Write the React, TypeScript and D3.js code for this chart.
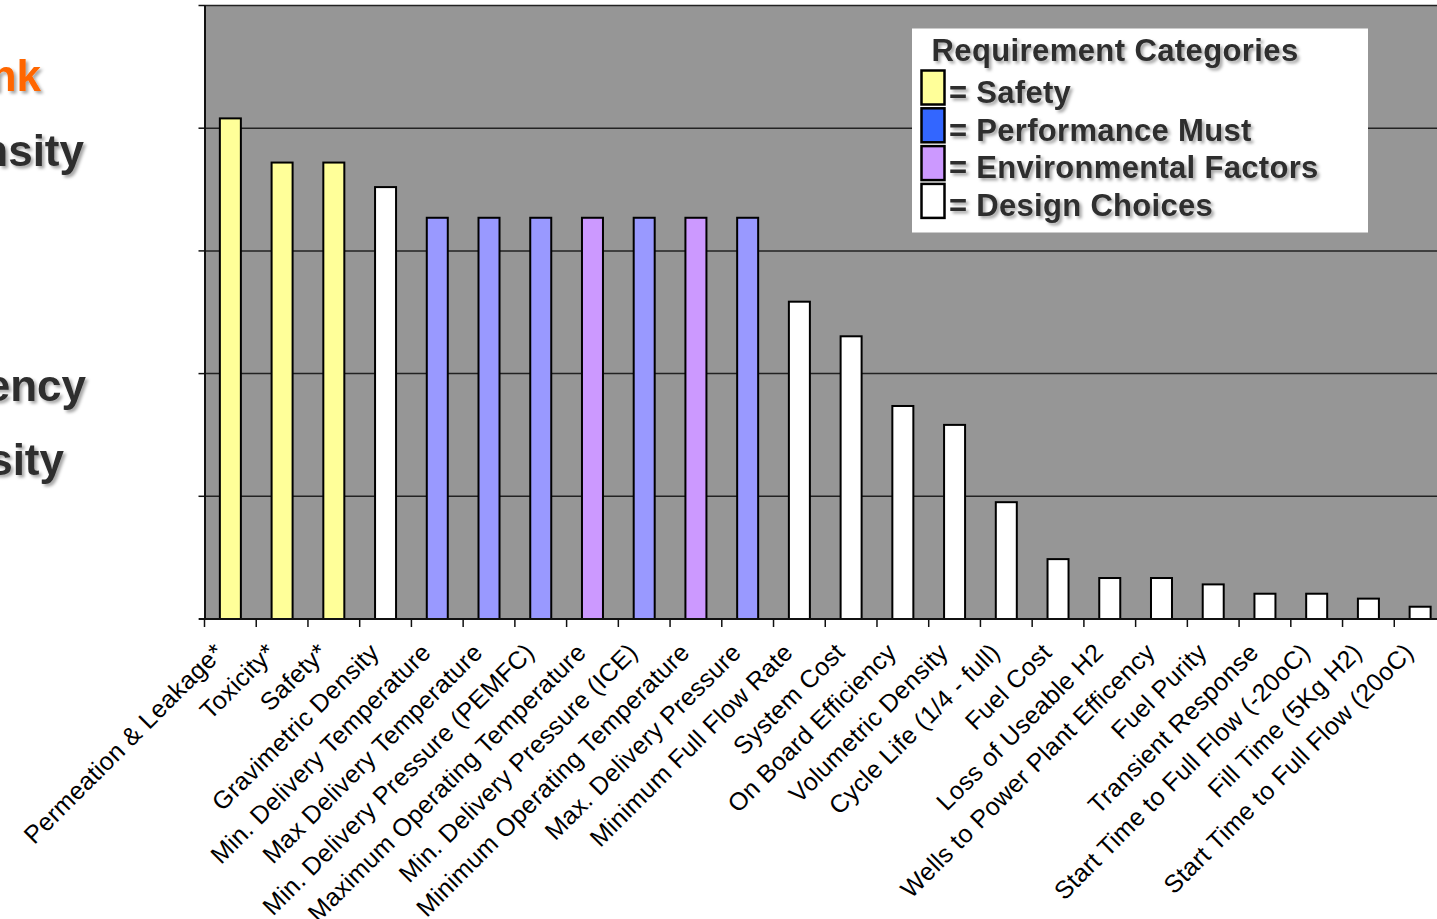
import React from "react";
import * as d3 from "d3";

// Requirement ranking data
const categories: string[] = [
  "Permeation & Leakage*",
  "Toxicity*",
  "Safety*",
  "Gravimetric Density",
  "Min. Delivery Temperature",
  "Max Delivery Temperature",
  "Min. Delivery Pressure (PEMFC)",
  "Maximum Operating Temperature",
  "Min. Delivery Pressure (ICE)",
  "Minimum Operating Temperature",
  "Max. Delivery Pressure",
  "Minimum Full Flow Rate",
  "System Cost",
  "On Board Efficiency",
  "Volumetric Density",
  "Cycle Life (1/4 - full)",
  "Fuel Cost",
  "Loss of Useable H2",
  "Wells to Power Plant Efficency",
  "Fuel Purity",
  "Transient Response",
  "Start Time to Full Flow (-20oC)",
  "Fill Time (5Kg H2)",
  "Start Time to Full Flow (20oC)",
];

const scores: number[] = [
  204, 186, 186, 176, 163.5, 163.5, 163.5, 163.5, 163.5, 163.5, 163.5,
  129.3, 115.2, 86.8, 79.1, 47.6, 24.4, 16.7, 16.7, 14.1, 10.3, 10.3, 8.3, 5.0,
];

const groups: string[] = [
  "safety", "safety", "safety", "design",
  "perf", "perf", "perf", "env", "perf", "env", "perf",
  "design", "design", "design", "design", "design", "design", "design",
  "design", "design", "design", "design", "design", "design",
];

const yTicks: number[] = [0, 50, 100, 150, 200, 250];

const legendKeys: string[] = ["safety", "perfLegend", "env", "design"];
const legendLabels: string[] = [
  "= Safety",
  "= Performance Must",
  "= Environmental Factors",
  "= Design Choices",
];

const sideLines: string[] = ["nk", "nsity", "ency", "sity"];

const fills: Record<string, string> = {
  safety: "#FFFF99",
  perf: "#9999FF",
  perfLegend: "#3366FF",
  env: "#CC99FF",
  design: "#FFFFFF",
};

export default function App() {
  const W = 1437;
  const H = 919;
  const left = 205;
  const right = 1446;
  const top = 5.5;
  const bottom = 619;

  const x = d3.scaleBand<string>().domain(categories).range([204.5, right]).padding(0);
  const y = d3.scaleLinear().domain([0, 250]).range([bottom, top]);
  const barW = 21;

  const sideStyle = [
    { x: 41, y: 91, color: "#FF6600" },
    { x: 84, y: 166, color: "#2E2E2E" },
    { x: 86, y: 401, color: "#2E2E2E" },
    { x: 64, y: 475, color: "#2E2E2E" },
  ];

  return (
    <svg
      width={W}
      height={H}
      style={{ position: "absolute", left: 0, top: 0, background: "#fff" }}
      fontFamily="'Liberation Sans', Arial, sans-serif"
    >
      <defs>
        <filter id="txtShadow" x="-10%" y="-30%" width="130%" height="170%">
          <feDropShadow dx="2.5" dy="2.5" stdDeviation="1.6" floodColor="#000" floodOpacity="0.35" />
        </filter>
        <clipPath id="plotClip">
          <rect x={0} y={0} width={W} height={H} />
        </clipPath>
      </defs>

      {/* slide text running behind the chart */}
      {sideLines.map((t, i) => (
        <text
          key={t}
          x={sideStyle[i].x}
          y={sideStyle[i].y}
          textAnchor="end"
          fontSize={44}
          fontWeight="bold"
          fill={sideStyle[i].color}
          filter="url(#txtShadow)"
        >
          {t}
        </text>
      ))}

      <g clipPath="url(#plotClip)">
        {/* plot background */}
        <rect x={left} y={top} width={right - left} height={bottom - top} fill="#969696" />

        {/* gridlines */}
        {yTicks.slice(1).map((t) => (
          <line key={t} x1={left} x2={right} y1={y(t)} y2={y(t)} stroke="#222" strokeWidth={1.5} />
        ))}

        {/* left axis with ticks */}
        <line x1={left} x2={left} y1={top} y2={bottom} stroke="#111" strokeWidth={2} />
        {yTicks.map((t) => (
          <line key={"yt" + t} x1={198.5} x2={left} y1={y(t)} y2={y(t)} stroke="#111" strokeWidth={1.5} />
        ))}

        {/* bars */}
        {categories.map((c, i) => {
          const cx = (x(c) as number) + x.bandwidth() / 2;
          return (
            <rect
              key={c}
              x={cx - barW / 2}
              y={y(scores[i])}
              width={barW}
              height={y(0) - y(scores[i])}
              fill={fills[groups[i]]}
              stroke="#000"
              strokeWidth={2}
            />
          );
        })}

        {/* bottom axis with category boundary ticks */}
        <line x1={left - 6} x2={right} y1={bottom} y2={bottom} stroke="#111" strokeWidth={2} />
        {categories.map((c) => (
          <line
            key={"xt" + c}
            x1={x(c) as number}
            x2={x(c) as number}
            y1={bottom}
            y2={bottom + 8}
            stroke="#111"
            strokeWidth={1.5}
          />
        ))}

        {/* rotated category labels */}
        {categories.map((c) => {
          const cx = (x(c) as number) + x.bandwidth() / 2;
          return (
            <text
              key={"lb" + c}
              transform={`translate(${cx - 5},${654}) rotate(-45)`}
              textAnchor="end"
              fontSize={25}
              letterSpacing={0.3}
              fill="#000"
            >
              {c}
            </text>
          );
        })}

        {/* legend */}
        <rect x={912} y={28.5} width={456} height={204} fill="#fff" />
        <text
          x={931.5}
          y={60.5}
          fontSize={31}
          fontWeight="bold"
          letterSpacing={0.4}
          fill="#2E2E2E"
          filter="url(#txtShadow)"
        >
          Requirement Categories
        </text>
        {legendKeys.map((k, i) => (
          <g key={k}>
            <rect
              x={921.5}
              y={70.5 + i * 37.8}
              width={23}
              height={34}
              fill={fills[k]}
              stroke="#000"
              strokeWidth={2.5}
            />
            <text
              x={949}
              y={102.7 + i * 37.8}
              fontSize={31}
              fontWeight="bold"
              letterSpacing={0.3}
              fill="#2E2E2E"
              filter="url(#txtShadow)"
            >
              {legendLabels[i]}
            </text>
          </g>
        ))}
      </g>
    </svg>
  );
}
